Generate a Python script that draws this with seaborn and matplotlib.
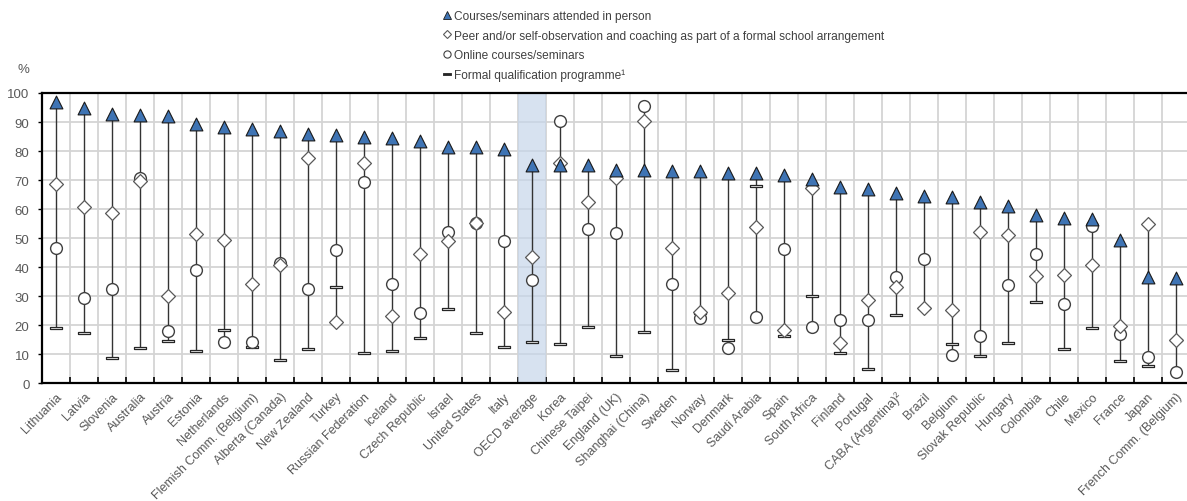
import matplotlib
matplotlib.use("Agg")
import matplotlib.pyplot as plt
from matplotlib.lines import Line2D
from matplotlib import font_manager
import seaborn as sns
import pandas as pd

countries = [
    "Lithuania", "Latvia", "Slovenia", "Australia", "Austria", "Estonia",
    "Netherlands", "Flemish Comm. (Belgium)", "Alberta (Canada)", "New Zealand",
    "Turkey", "Russian Federation", "Iceland", "Czech Republic", "Israel",
    "United States", "Italy", "OECD average", "Korea", "Chinese Taipei",
    "England (UK)", "Shanghai (China)", "Sweden", "Norway", "Denmark",
    "Saudi Arabia", "Spain", "South Africa", "Finland", "Portugal",
    "CABA (Argentina)²", "Brazil", "Belgium", "Slovak Republic", "Hungary",
    "Colombia", "Chile", "Mexico", "France", "Japan", "French Comm. (Belgium)",
]

in_person = [
    96.8, 94.7, 92.8, 92.5, 92.2, 89.3, 88.2, 87.6, 86.8, 85.9,
    85.5, 85.0, 84.4, 83.6, 81.3, 81.3, 80.7, 75.2, 75.2, 75.2,
    73.6, 73.6, 73.2, 73.2, 72.4, 72.3, 71.7, 70.4, 67.5, 66.9,
    65.5, 64.6, 64.1, 62.3, 61.0, 58.0, 56.8, 56.6, 49.5, 36.5, 36.2,
]
peer_coaching = [
    68.7, 60.8, 58.8, 69.8, 30.2, 51.4, 49.5, 34.2, 40.7, 77.6,
    21.0, 75.8, 23.1, 44.5, 49.0, 55.2, 24.5, 43.4, 75.8, 62.6,
    70.7, 90.2, 46.6, 24.5, 31.1, 53.9, 18.5, 67.2, 13.8, 28.8,
    33.1, 25.8, 25.4, 52.0, 51.2, 36.9, 37.3, 40.9, 19.8, 54.9, 14.9,
]
online = [
    46.6, 29.3, 32.5, 70.6, 17.9, 39.0, 14.1, 14.3, 41.3, 32.5,
    45.9, 69.2, 34.2, 24.1, 52.2, 55.2, 49.1, 35.6, 90.5, 53.2,
    51.8, 95.6, 34.2, 22.5, 12.1, 22.7, 46.3, 19.3, 21.8, 21.8,
    36.5, 42.8, 9.7, 16.2, 33.9, 44.5, 27.2, 54.3, 17.0, 9.0, 4.0,
]
qualification = [
    19.0, 17.2, 8.6, 12.1, 14.5, 11.0, 18.4, 12.6, 8.0, 11.8,
    33.2, 10.3, 11.0, 15.5, 25.6, 17.2, 12.4, 14.1, 13.4, 19.3,
    9.3, 17.6, 4.7, 24.1, 14.8, 67.9, 16.2, 30.0, 10.3, 4.8,
    23.5, 25.9, 13.4, 9.4, 13.8, 27.9, 11.7, 18.9, 7.6, 6.0, 14.9,
]
y_ticks = [0, 10, 20, 30, 40, 50, 60, 70, 80, 90, 100]
highlight = "OECD average"

series_labels = [
    "Courses/seminars attended in person",
    "Peer and/or self-observation and coaching as part of a formal school arrangement",
    "Online courses/seminars",
    "Formal qualification programme¹",
]

df = pd.DataFrame({
    "country": countries,
    "in_person": in_person,
    "peer": peer_coaching,
    "online": online,
    "qualification": qualification,
})
df["low"] = df[["in_person", "peer", "online", "qualification"]].min(axis=1)
df["high"] = df[["in_person", "peer", "online", "qualification"]].max(axis=1)


def first_available(names):
    for name in names:
        try:
            font_manager.findfont(font_manager.FontProperties(family=name),
                                  fallback_to_default=False)
            return name
        except Exception:
            continue
    return None


narrow = first_available(["Liberation Sans Narrow", "Arial Narrow", "DejaVu Sans Condensed"])

sns.set_theme(style="white")
families = [f for f in [narrow, "Liberation Sans", "DejaVu Sans"] if f]
plt.rcParams["font.family"] = families
fs = 9.5 if narrow else 9.0
legend_fs = 9.5 if narrow else 8.6

W, H = 1187, 502
fig = plt.figure(figsize=(W / 100, H / 100), dpi=100)
ax = fig.add_axes([42 / W, 1 - 384.3 / H, 1148 / W, (384.3 - 94) / H])

text_grey = "#595959"
edge_dark = "#262626"
grid_col = "#d4d4d4"

n = len(countries)
ax.set_xlim(-0.5, n - 0.5)
ax.set_ylim(0, 100)

# gridlines: horizontal at each tick, vertical at category boundaries
ax.set_axisbelow(True)
ax.set_yticks(y_ticks)
ax.set_xticks([i + 0.5 for i in range(-1, n)], minor=True)
ax.grid(True, which="major", axis="y", color=grid_col, lw=1.3, zorder=0)
ax.grid(True, which="minor", axis="x", color=grid_col, lw=1.3, zorder=0)

# shaded column for the average
hi = countries.index(highlight)
ax.axvspan(hi - 0.5, hi + 0.5, color="#c6d6ea", alpha=0.7, lw=0, zorder=0.6)

# range line joining lowest and highest value for each country
ax.vlines(range(n), df["low"], df["high"], color="#333333", lw=1.0, zorder=1)

# rectangle-shaped dash marker for the qualification series
dash_marker = [(-1, -0.22), (1, -0.22), (1, 0.22), (-1, 0.22), (-1, -0.22)]

sns.scatterplot(data=df, x="country", y="qualification", marker=dash_marker,
                s=85, color="white", edgecolor=edge_dark, linewidth=0.9,
                ax=ax, zorder=2)
sns.scatterplot(data=df, x="country", y="online", marker="o",
                s=72, color="white", edgecolor="#404040", linewidth=1.0,
                ax=ax, zorder=3)
sns.scatterplot(data=df, x="country", y="peer", marker="D",
                s=50, color="white", edgecolor="#595959", linewidth=0.9,
                ax=ax, zorder=4)
sns.scatterplot(data=df, x="country", y="in_person", marker="^",
                s=85, color="#3f74b4", edgecolor="#1a1a1a", linewidth=0.8,
                ax=ax, zorder=5)

ax.set_xlabel("")
ax.set_ylabel("")
ax.set_xticks(range(n))
ax.set_xticklabels(countries, rotation=45, ha="right", rotation_mode="anchor",
                   fontsize=fs, color=text_grey)
ax.tick_params(axis="x", which="major", length=0, pad=5)
ax.tick_params(axis="x", which="minor", direction="in", length=4, width=1.2,
               color="black", bottom=True)
ax.tick_params(axis="y", which="major", direction="out", length=3, width=1.0,
               color="black", labelsize=9.5, labelcolor=text_grey, pad=6, left=True)

for side in ["left", "bottom", "top"]:
    ax.spines[side].set_visible(True)
    ax.spines[side].set_color("black")
    ax.spines[side].set_linewidth(1.6)
ax.spines["right"].set_visible(False)

fig.text(18 / W, 1 - 70 / H, "%", fontsize=9.5, color=text_grey,
         ha="left", va="center")

handles = [
    Line2D([], [], ls="none", marker="^", ms=6, mfc="#3f74b4", mec="#1a1a1a", mew=0.6),
    Line2D([], [], ls="none", marker="D", ms=4.2, mfc="white", mec="#595959", mew=0.8),
    Line2D([], [], ls="none", marker="o", ms=5.2, mfc="white", mec="#404040", mew=0.8),
    Line2D([], [], ls="none", marker=dash_marker, ms=6, mfc="#262626", mec="#262626", mew=0.6),
]
fig.legend(handles, series_labels, loc="upper left", bbox_to_anchor=(436 / W, 1 - 5 / H),
           frameon=False, fontsize=legend_fs, handlelength=0.8, handletextpad=0.2,
           labelspacing=0.64, borderpad=0, labelcolor="#404040")

fig.savefig("out.png", dpi=100)
